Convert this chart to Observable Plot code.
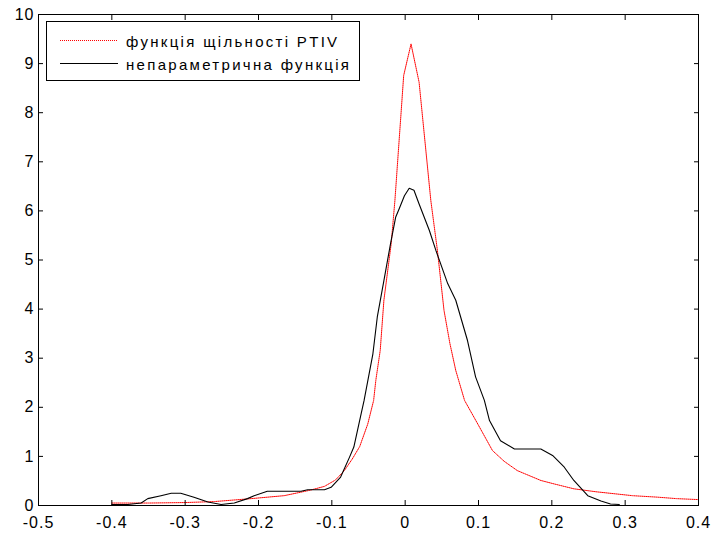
<!DOCTYPE html>
<html><head><meta charset="utf-8">
<script src="https://cdn.jsdelivr.net/npm/d3@7"></script>
<script src="https://cdn.jsdelivr.net/npm/@observablehq/plot@0.6"></script>
<style>
body{margin:0;background:#fff}
#chart{position:relative;width:713px;height:534px}
#chart svg [aria-label="x-axis tick label"] text,
#chart svg [aria-label="y-axis tick label"] text{letter-spacing:1px}
</style>
</head><body><div id="chart"></div>
<script>
// PTIV density (red)
const ptivX = [-0.40,-0.35,-0.30,-0.26,-0.21,-0.165,-0.13,-0.11,-0.095,-0.083,-0.072,-0.062,-0.051,-0.043,-0.040,-0.034,-0.029,-0.019,-0.014,-0.002,0.008,0.019,0.035,0.044,0.053,0.061,0.069,0.081,0.099,0.119,0.135,0.153,0.185,0.203,0.230,0.260,0.285,0.310,0.344,0.370,0.400];
const ptivY = [0.05,0.05,0.06,0.08,0.14,0.20,0.31,0.39,0.52,0.71,0.95,1.20,1.66,2.14,2.55,3.16,4.18,5.34,6.21,8.76,9.40,8.62,6.21,5.19,3.97,3.30,2.75,2.14,1.66,1.12,0.90,0.71,0.51,0.44,0.34,0.28,0.24,0.20,0.17,0.14,0.12];
// nonparametric function (black)
const npX = [-0.400,-0.378,-0.360,-0.351,-0.333,-0.319,-0.306,-0.288,-0.269,-0.251,-0.233,-0.215,-0.206,-0.188,-0.142,-0.133,-0.110,-0.101,-0.088,-0.076,-0.070,-0.065,-0.060,-0.056,-0.044,-0.038,-0.029,-0.020,-0.013,-0.008,-0.001,0.0055,0.012,0.019,0.033,0.042,0.058,0.069,0.085,0.096,0.108,0.115,0.130,0.149,0.185,0.201,0.217,0.230,0.249,0.267,0.280,0.292];
const npY = [0.02,0.02,0.05,0.14,0.20,0.25,0.25,0.17,0.07,0.02,0.05,0.14,0.20,0.29,0.29,0.32,0.32,0.37,0.58,0.98,1.19,1.53,1.87,2.14,3.09,3.84,4.58,5.33,5.87,6.05,6.31,6.46,6.42,6.14,5.60,5.19,4.52,4.18,3.36,2.62,2.14,1.73,1.32,1.15,1.15,1.02,0.78,0.51,0.20,0.09,0.03,0.02];
const xTicks = [-0.5,-0.4,-0.3,-0.2,-0.1,0,0.1,0.2,0.3,0.4];
const yTicks = [0,1,2,3,4,5,6,7,8,9,10];
const legendLabels = ["функція щільності PTIV","непараметрична функція"];
const seriesColors = ["red","black"];

const ptiv = ptivX.map((x,i)=>({x, y:ptivY[i]}));
const np = npX.map((x,i)=>({x, y:npY[i]}));
const fmt = d => String(d);
const blank = () => "";
const tk = {tickSize:5, tickFormat:blank, label:null, stroke:"black", strokeWidth:1};

const plot = Plot.plot({
  width:713, height:534,
  marginLeft:38, marginRight:15, marginTop:14, marginBottom:29,
  style:{fontFamily:"'Liberation Sans', Arial, sans-serif", fontSize:"16px", background:"white", color:"black", overflow:"visible"},
  x:{domain:[-0.5,0.4]},
  y:{domain:[0,10]},
  marks:[
    Plot.line(ptiv,{x:"x",y:"y",stroke:seriesColors[0],strokeWidth:1,strokeDasharray:"1,1"}),
    Plot.line(np,{x:"x",y:"y",stroke:seriesColors[1],strokeWidth:1.1}),
    Plot.frame({stroke:"black"}),
    Plot.axisX(xTicks,{anchor:"bottom",dy:-5,...tk}),
    Plot.axisX(xTicks,{anchor:"top",dy:5,...tk}),
    Plot.axisY(yTicks,{anchor:"left",dx:5,...tk}),
    Plot.axisY(yTicks,{anchor:"right",dx:-5,...tk}),
    Plot.axisX(xTicks,{anchor:"bottom",tickSize:0,tickPadding:11,tickFormat:fmt,fontSize:16,label:null}),
    Plot.axisY(yTicks,{anchor:"left",tickSize:0,tickPadding:4,tickFormat:fmt,fontSize:16,label:null})
  ]
});
document.getElementById("chart").appendChild(plot);

// legend
const svg = d3.select(plot);
const g = svg.append("g").attr("class","legend").attr("text-anchor","start");
g.append("rect").attr("x",46.5).attr("y",21.5).attr("width",313).attr("height",59)
  .attr("fill","white").attr("stroke","black");
const rows = [40.5, 63.5];
legendLabels.forEach((lab,i)=>{
  g.append("line").attr("x1",60).attr("x2",118).attr("y1",rows[i]).attr("y2",rows[i])
    .attr("stroke",seriesColors[i]).attr("stroke-width",1)
    .attr("stroke-dasharray", i===0 ? "1,1" : null);
  g.append("text").attr("x",126).attr("y",rows[i]+6.5).text(lab)
    .attr("text-anchor","start")
    .attr("font-family","'Liberation Sans', Arial, sans-serif").attr("font-size",15)
    .attr("letter-spacing","2.3px").attr("fill","black");
});
</script>
</body></html>
